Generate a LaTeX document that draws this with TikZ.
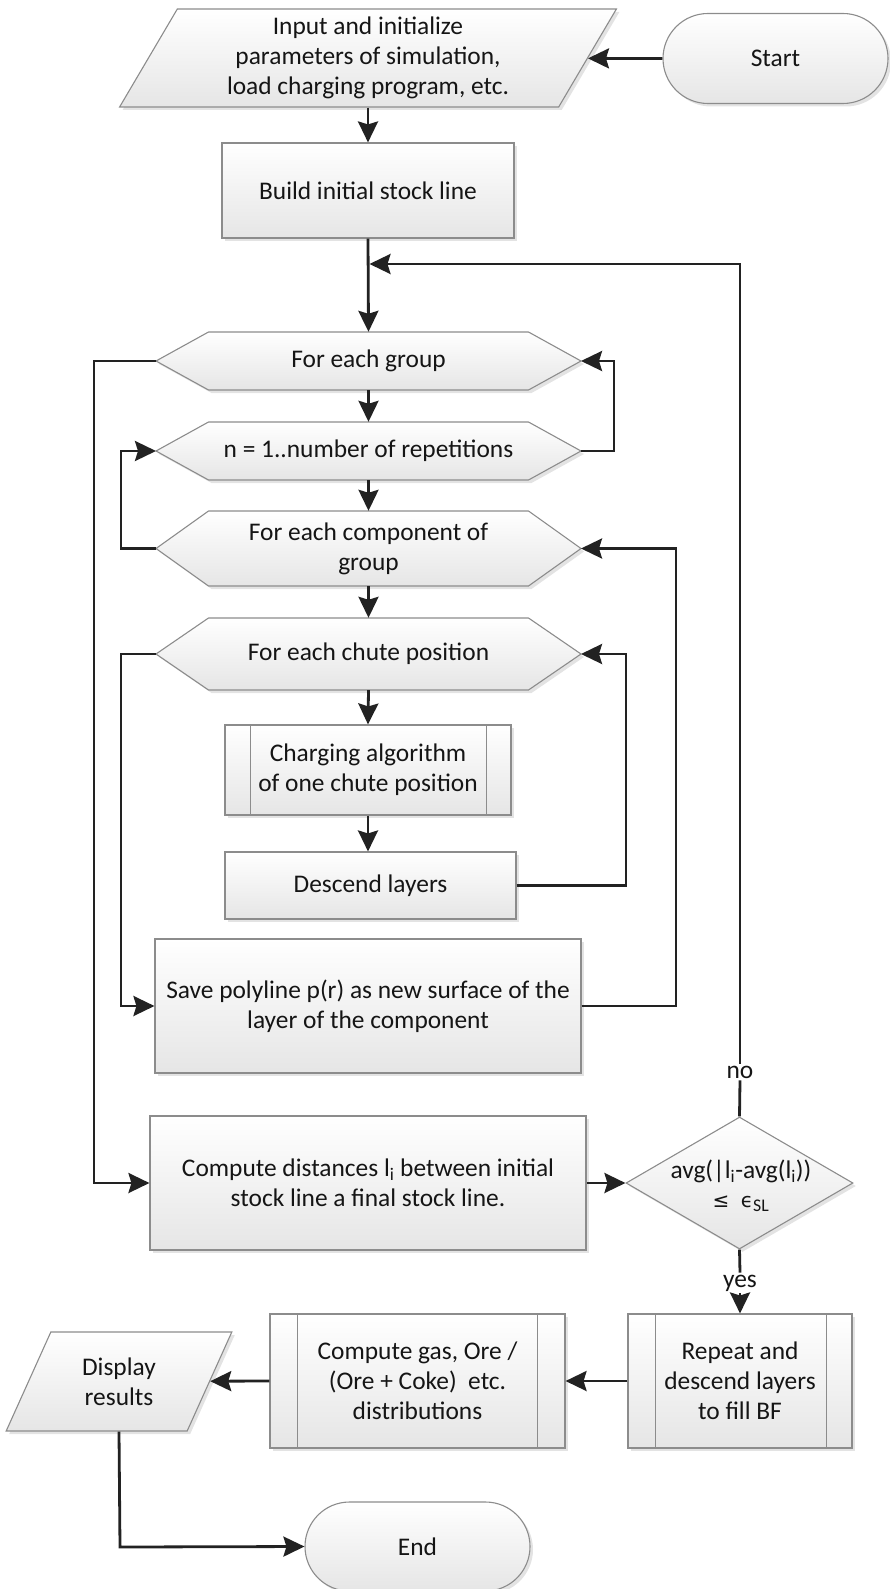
\documentclass[tikz,border=0pt]{standalone}
\usepackage{fontspec}
\setmainfont{Carlito}
\newfontfamily\symfont{DejaVu Sans}
\usetikzlibrary{shapes.geometric,shapes.misc,shadows,arrows.meta}
\definecolor{linec}{HTML}{222222}
\definecolor{borderc}{HTML}{8C8C8C}
\definecolor{textc}{HTML}{151515}
\newcommand\hexbox[4]{% cx, cy, half height, name
  \path[box] (#1-160,#2-#3) -- (#1+160,#2-#3) -- (#1+212.5,#2) -- (#1+160,#2+#3)
     -- (#1-160,#2+#3) -- (#1-212.5,#2) -- cycle;
  \coordinate (#4-l) at (#1-212.5,#2);
  \coordinate (#4-r) at (#1+212.5,#2);
}
\begin{document}
\begin{tikzpicture}[x=1pt,y=-1pt,
  every node/.style={font=\fontsize{25.4}{30}\selectfont, text=textc, align=center},
  box/.style={draw=borderc, line width=1.1pt, top color=white, bottom color=gray!20,
    drop shadow={shadow xshift=3pt,shadow yshift=-3pt,opacity=0.22}},
  proc/.style={box, rectangle, inner sep=0pt},
  hexlabel/.style={rectangle, inner sep=0pt, minimum width=320pt},
  term/.style={box, rounded rectangle, inner sep=0pt},
  io/.style={box, trapezium, trapezium stretches=true, inner sep=0pt},
  dec/.style={box, diamond, inner sep=0pt},
  conn/.style={draw=linec, line width=2.8pt},
  arr/.style={conn, -{Stealth[length=21pt,width=20pt,inset=3pt]}},
  lab/.style={fill=white, inner sep=2pt}
]
\useasboundingbox (0,0) rectangle (889,1589);

% nodes
\node[term, minimum width=225pt, minimum height=90pt] (start) at (775.5,58.5) {Start};
\node[io, trapezium left angle=62.5, trapezium right angle=117.5,
      minimum width=498pt, minimum height=98pt] (input) at (368,58)
      {Input and initialize\\parameters of simulation,\\load charging program, etc.};
\node[proc, minimum width=292pt, minimum height=95pt] (build) at (368,190.5) {Build initial stock line};
\coordinate (merge) at (369.5,264);

\hexbox{368.5}{361}{29}{grp}
\node[hexlabel, minimum height=58pt] (grp) at (368.5,361) {For each group};
\hexbox{368.5}{451}{29}{rep}
\node[hexlabel, minimum height=58pt] (rep) at (368.5,451) {n = 1..number of repetitions};
\hexbox{368.5}{548.5}{37.5}{comp}
\node[hexlabel, minimum height=75pt] (comp) at (368.5,548.5) {For each component of\\group};
\hexbox{368.5}{654}{36}{chute}
\node[hexlabel, minimum height=72pt] (chute) at (368.5,654) {For each chute position};

\node[proc, minimum width=286pt, minimum height=90pt] (charge) at (368,770)
      {Charging algorithm\\of one chute position};
\node[proc, minimum width=291pt, minimum height=67pt] (desc) at (370.5,885.5) {Descend layers};
\node[proc, minimum width=426pt, minimum height=134pt] (save) at (368,1006)
      {Save polyline p(r) as new surface of the\\layer of the component};
\node[proc, minimum width=436pt, minimum height=134pt] (dist) at (368,1183)
      {Compute distances l\textsubscript{i} between initial\\stock line a final stock line.};
\node[dec, minimum width=227pt, minimum height=132pt] (dec) at (739.5,1183) {};
\node (dectext) at (741,1186)
      {avg(|l\textsubscript{i}-avg(l\textsubscript{i}))\\[-1pt]{\symfont\fontsize{20}{24}\selectfont ≤}\ \ {\symfont\fontsize{20}{24}\selectfont ϵ}\textsubscript{SL}};
\node[proc, minimum width=224pt, minimum height=134pt] (repeat) at (740,1381)
      {Repeat and\\descend layers\\to fill BF};
\node[proc, minimum width=295pt, minimum height=134pt] (gas) at (417.5,1381)
      {Compute gas, Ore /\\(Ore + Coke)~ etc.\\distributions};
\node[io, trapezium left angle=63.2, trapezium right angle=116.8,
      minimum width=226pt, minimum height=99pt] (disp) at (119,1381.5) {Display\\results};
\node[term, minimum width=225pt, minimum height=89pt] (end) at (417.5,1546.5) {End};

% subroutine side bars
\foreach \n/\l/\r in {charge/26/25, repeat/28/26, gas/28/28}{
  \draw[draw=borderc, line width=1.1pt] ([xshift=\l pt]\n.north west) -- ([xshift=\l pt]\n.south west);
  \draw[draw=borderc, line width=1.1pt] ([xshift=-\r pt]\n.north east) -- ([xshift=-\r pt]\n.south east);
}

% connectors
\draw[arr] (start.west) -- (input);
\draw[arr] (input.south -| build.north) -- (build.north);
\draw[arr] (build.south) -- (grp.north);
\node[lab] (no) at (740,1072) {no};
\draw[conn] (dec.north) -- (no.south);
\draw[arr] (no.north) -- (740,264) -- (merge);
\draw[arr] (grp.south) -- (rep.north);
\draw[arr] (rep-r) -- (614,451) -- (614,361) -- (grp-r);
\draw[arr] (rep.south) -- (comp.north);
\draw[arr] (comp-l) -- (121,548.5) -- (121,451) -- (rep-l);
\draw[arr] (grp-l) -- (94,361) -- (94,1183) -- (dist.west);
\draw[arr] (comp.south) -- (chute.north);
\draw[arr] (chute-l) -- (121,654) -- (121,1006) -- (save.west);
\draw[arr] (chute.south) -- (charge.north);
\draw[arr] (charge.south) -- (charge.south |- desc.north);
\draw[arr] (desc.east) -- (626,885.5) -- (626,654) -- (chute-r);
\draw[arr] (save.east) -- (676,1006) -- (676,548.5) -- (comp-r);
\draw[arr] (dist.east) -- (dec.west);
\node[lab] (yes) at (740,1283) {yes};
\draw[conn] (dec.south) -- (yes.north);
\draw[arr] (yes.south) -- (repeat.north);
\draw[arr] (repeat.west) -- (gas.east);
\draw[arr] (gas.west) -- (disp);
\draw[arr] (disp.center |- disp.south) -- (120,1547) -- (end.west);
\end{tikzpicture}
\end{document}
